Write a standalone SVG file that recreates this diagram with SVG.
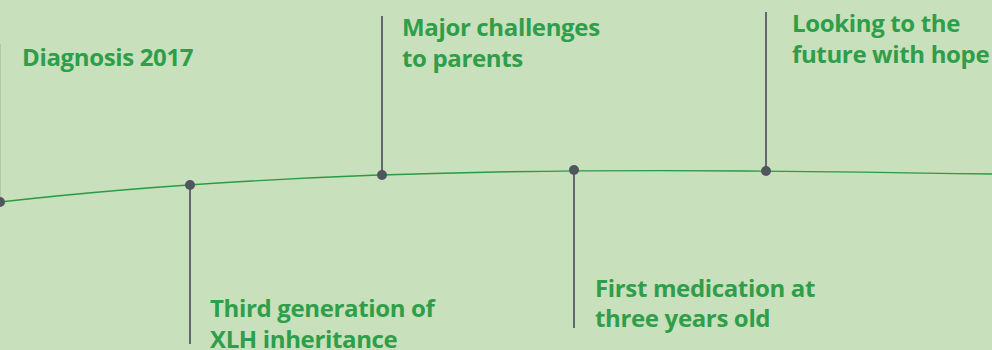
<svg xmlns="http://www.w3.org/2000/svg" width="992" height="350" viewBox="0 0 992 350">
<style>
.lbl{font-family:"Open Sans","Noto Sans","Liberation Sans",sans-serif;font-weight:700;font-size:24px;fill:#2f9e4a;letter-spacing:-0.35px}
.stem{stroke:#62676d;stroke-width:2;fill:none}
.dot{fill:#50565e}
.curve{stroke:#2a9a43;stroke-width:1.4;fill:none}
</style>
<rect width="992" height="350" fill="#c8e0bb"/>
<g id="connectors">
<path class="curve" d="M0,202 C330.7,164.5 661.3,168.9 992,174"/>
</g>
<g id="node1">
<line class="stem" x1="-0.8" y1="44" x2="-0.8" y2="202"/>
<circle class="dot" cx="0" cy="202" r="5"/>
<text class="lbl" x="22" y="66">Diagnosis 2017</text>
</g>
<g id="node2">
<line class="stem" x1="190" y1="185" x2="190" y2="344"/>
<circle class="dot" cx="190" cy="185" r="5"/>
<text class="lbl" x="210" y="317">Third generation of<tspan x="210" dy="31">XLH inheritance</tspan></text>
</g>
<g id="node3">
<line class="stem" x1="382" y1="16" x2="382" y2="175"/>
<circle class="dot" cx="382" cy="175" r="5"/>
<text class="lbl" x="402" y="36">Major challenges<tspan x="402" dy="31">to parents</tspan></text>
</g>
<g id="node4">
<line class="stem" x1="574" y1="170" x2="574" y2="328"/>
<circle class="dot" cx="574" cy="170" r="5"/>
<text class="lbl" x="595" y="297">First medication at<tspan x="595" dy="30">three years old</tspan></text>
</g>
<g id="node5">
<line class="stem" x1="766" y1="12" x2="766" y2="171"/>
<circle class="dot" cx="766" cy="171" r="5"/>
<text class="lbl" x="792" y="32">Looking to the<tspan x="792" dy="31">future with hope</tspan></text>
</g>
</svg>
